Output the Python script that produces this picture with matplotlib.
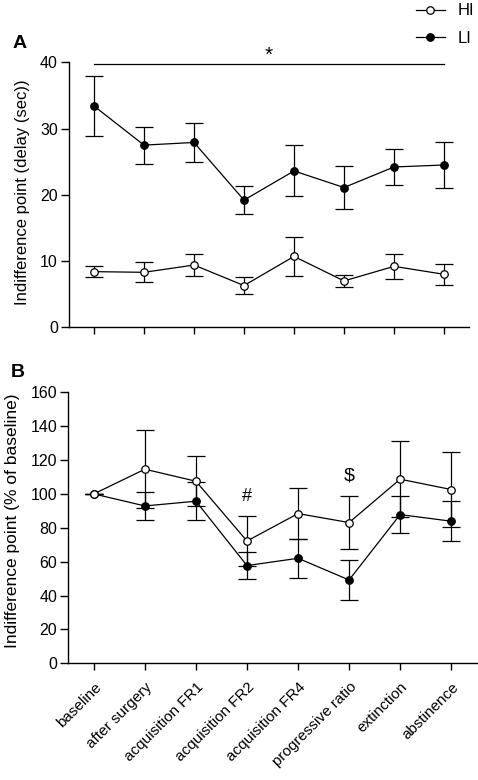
import matplotlib
matplotlib.use("Agg")
import matplotlib.pyplot as plt
from matplotlib.lines import Line2D
import numpy as np

plt.rcParams['font.family'] = ['Liberation Sans', 'DejaVu Sans']

categories = ["baseline", "after surgery", "acquisition FR1", "acquisition FR2",
              "acquisition FR4", "progressive ratio", "extinction", "abstinence"]

# Panel A: indifference point (delay, sec)
a_hi = [8.4, 8.3, 9.4, 6.3, 10.7, 7.0, 9.2, 8.0]
a_hi_err = [0.85, 1.5, 1.7, 1.25, 3.0, 0.9, 1.85, 1.6]
a_li = [33.4, 27.5, 27.9, 19.2, 23.6, 21.1, 24.2, 24.5]
a_li_err = [4.55, 2.8, 3.0, 2.1, 3.85, 3.3, 2.7, 3.45]

# Panel B: indifference point (% of baseline)
b_hi = [100, 114.6, 107.5, 72.2, 88.4, 83.1, 108.7, 102.6]
b_hi_err = [0, 23.2, 14.7, 15.0, 15.3, 15.4, 22.4, 22.4]
b_li = [100, 92.9, 95.7, 57.7, 62.0, 49.2, 87.8, 83.9]
b_li_err = [0, 8.3, 11.1, 7.9, 11.4, 12.0, 10.8, 11.9]

W, H = 478, 780
fig = plt.figure(figsize=(W / 100, H / 100), dpi=100)

axA = fig.add_axes([69 / W, 1 - 327.3 / H, 400 / W, 265 / H])
axB = fig.add_axes([68.3 / W, 1 - 663.3 / H, 408.4 / W, 271 / H])

x = np.arange(len(categories))
lw = 0.9
ms = 5.4
common = dict(color='black', lw=lw, capsize=6.5, capthick=lw, elinewidth=lw,
              markersize=ms, markeredgewidth=0.9, clip_on=False)

for ax, hi, hie, li, lie in [(axA, a_hi, a_hi_err, a_li, a_li_err),
                             (axB, b_hi, b_hi_err, b_li, b_li_err)]:
    ax.errorbar(x, li, yerr=lie, fmt='-o', markerfacecolor='black',
                markeredgecolor='black', zorder=3, **common)
    ax.errorbar(x, hi, yerr=hie, fmt='-o', markerfacecolor='white',
                markeredgecolor='black', zorder=4, **common)
    ax.set_xlim(-0.5, 7.5)
    ax.set_xticks(x)
    for s in ['top', 'right']:
        ax.spines[s].set_visible(False)
    for s in ['left', 'bottom']:
        ax.spines[s].set_linewidth(1.0)
    ax.tick_params(axis='both', direction='out', length=5, width=1.0,
                   labelsize=11.5, pad=2)
    ax.tick_params(axis='y', length=6)

axA.set_ylim(0, 40)
axA.set_yticks([0, 10, 20, 30, 40])
axA.set_xticklabels([])
axA.set_ylabel("Indifference point (delay (sec))", fontsize=12)
axA.yaxis.set_label_coords(-0.0975, 0.51)
axA.plot([0, 7], [39.75, 39.75], color='black', lw=lw, clip_on=False)
axA.text(3.5, 41.0, "*", ha='center', va='center', fontsize=15)

axB.set_ylim(0, 160)
axB.set_yticks(np.arange(0, 161, 20))
axB.set_xticklabels(categories, rotation=45, ha='right', rotation_mode='anchor',
                    fontsize=11)
axB.tick_params(axis='x', pad=7)
axB.set_ylabel("Indifference point (% of baseline)", fontsize=12.5)
axB.yaxis.set_label_coords(-0.118, 0.525)
axB.text(3, 98.5, "#", ha='center', va='center', fontsize=13)
axB.text(5, 110.5, "$", ha='center', va='center', fontsize=14)

fig.text(13 / W, 1 - 44 / H, "A", fontsize=14, fontweight='bold', va='center', ha='left')
fig.text(11 / W, 1 - 372 / H, "B", fontsize=14, fontweight='bold', va='center', ha='left')

handles = [Line2D([], [], color='black', lw=lw, marker='o', markersize=ms,
                  markerfacecolor='white', markeredgecolor='black', markeredgewidth=0.9),
           Line2D([], [], color='black', lw=lw, marker='o', markersize=ms,
                  markerfacecolor='black', markeredgecolor='black', markeredgewidth=0.9)]
fig.legend(handles, ["HI", "LI"], loc='upper right', bbox_to_anchor=(1.0, 1.0),
           frameon=False, fontsize=12, handlelength=1.75, handletextpad=0.8,
           labelspacing=0.75, borderpad=0.0, borderaxespad=0.2)

fig.savefig("out.png", dpi=100)
